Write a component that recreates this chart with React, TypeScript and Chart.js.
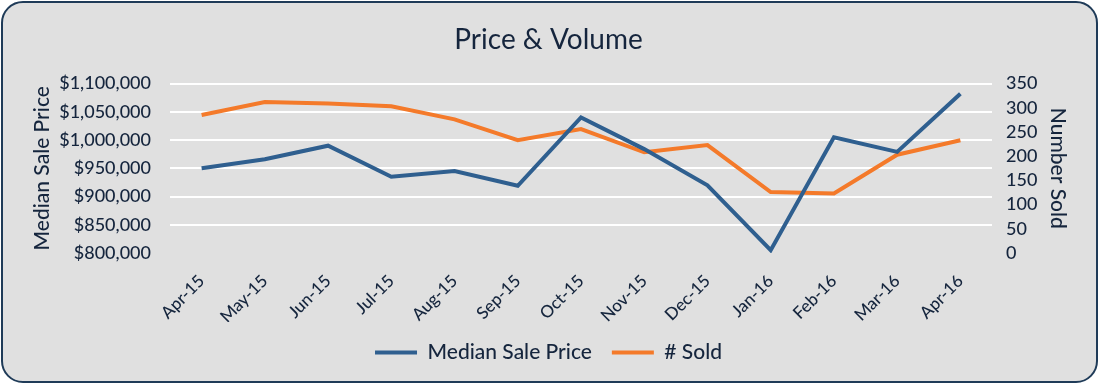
import React, { useEffect, useRef } from "react";
import { Chart, registerables } from "chart.js";

Chart.register(...registerables);

const months = ["Apr-15", "May-15", "Jun-15", "Jul-15", "Aug-15", "Sep-15", "Oct-15", "Nov-15", "Dec-15", "Jan-16", "Feb-16", "Mar-16", "Apr-16"];
const medianSalePrice = [950000, 966000, 990000, 935000, 945000, 919000, 1040000, 984000, 920000, 805000, 1005000, 979000, 1082000];
const numberSold = [285, 312, 309, 303, 276, 233, 256, 208, 223, 126, 123, 203, 233];
const priceTicks = { min: 800000, max: 1100000, step: 50000 };
const soldTicks = { min: 0, max: 350, step: 50 };

const NAVY = "#15253d";
const BLUE = "#2f5f8f";
const ORANGE = "#f47a2a";
const FONT = "Lato, 'Open Sans', sans-serif";

export default function App() {
  const ref = useRef<HTMLCanvasElement | null>(null);

  useEffect(() => {
    if (!ref.current) return;
    const chart = new Chart(ref.current, {
      type: "line",
      data: {
        labels: months,
        datasets: [
          {
            label: "Median Sale Price",
            data: medianSalePrice,
            borderColor: BLUE,
            backgroundColor: BLUE,
            borderWidth: 4,
            pointRadius: 0,
            tension: 0,
            yAxisID: "y",
          },
          {
            label: "# Sold",
            data: numberSold,
            borderColor: ORANGE,
            backgroundColor: ORANGE,
            borderWidth: 4,
            pointRadius: 0,
            tension: 0,
            yAxisID: "y1",
          },
        ],
      },
      options: {
        responsive: false,
        animation: false,
        layout: { padding: { left: 20, right: 22, top: 0, bottom: 11 } },
        plugins: {
          title: {
            display: true,
            text: "Price & Volume",
            color: NAVY,
            font: { family: FONT, size: 28, weight: "normal" },
            padding: { top: 23, bottom: 27 },
          },
          legend: {
            position: "bottom",
            labels: {
              color: NAVY,
              font: { family: FONT, size: 21, weight: "500" },
              boxWidth: 42,
              boxHeight: 4,
              padding: 20,
              generateLabels: (c: any) =>
                Chart.defaults.plugins.legend.labels.generateLabels(c).map((l: any) => ({
                  ...l,
                  lineWidth: 0,
                  fillStyle: l.strokeStyle,
                })),
            },
          },
          tooltip: { enabled: false },
        },
        scales: {
          x: {
            offset: true,
            grid: { display: false, drawTicks: false },
            border: { display: false },
            ticks: {
              color: NAVY,
              font: { family: FONT, size: 17, weight: "500" },
              minRotation: 45,
              maxRotation: 45,
              padding: 18,
              autoSkip: false,
            },
            afterFit: (s: any) => {
              s.height = 69;
            },
          },
          y: {
            position: "left",
            min: priceTicks.min,
            max: priceTicks.max,
            grid: {
              drawTicks: false,
              lineWidth: 2,
              color: (ctx: any) => (ctx.tick && ctx.tick.value === priceTicks.min ? "rgba(0,0,0,0)" : "#ffffff"),
            },
            border: { display: false },
            ticks: {
              stepSize: priceTicks.step,
              autoSkip: false,
              color: NAVY,
              font: { family: FONT, size: 18, weight: "500" },
              padding: 19,
              callback: (v: any) => "$" + Number(v).toLocaleString("en-US"),
            },
            title: {
              display: true,
              text: "Median Sale Price",
              color: NAVY,
              font: { family: FONT, size: 21, weight: "500" },
              padding: { top: 10, bottom: 0 },
            },
            afterFit: (s: any) => {
              s.width = 150;
            },
          },
          y1: {
            position: "right",
            min: soldTicks.min,
            max: soldTicks.max,
            grid: { display: false, drawTicks: false },
            border: { display: false },
            ticks: {
              stepSize: soldTicks.step,
              autoSkip: false,
              color: NAVY,
              font: { family: FONT, size: 18, weight: "500" },
              padding: 14,
            },
            title: {
              display: true,
              text: "Number Sold",
              color: NAVY,
              font: { family: FONT, size: 21, weight: "500" },
              padding: { top: 7, bottom: 0 },
            },
            afterFit: (s: any) => {
              s.width = 85;
            },
          },
        },
      },
    } as any);
    return () => chart.destroy();
  }, []);

  return (
    <div style={{ position: "absolute", left: 0, top: 0, width: 1099, height: 384 }}>
      <div
        style={{
          position: "absolute",
          left: 1,
          top: 1,
          width: 1097,
          height: 382,
          boxSizing: "border-box",
          border: "2px solid #1f3b58",
          borderRadius: 22,
          background: "#e0e0e0",
        }}
      />
      <canvas ref={ref} width={1099} height={384} style={{ position: "absolute", left: 0, top: 0, width: 1099, height: 384 }} />
    </div>
  );
}
